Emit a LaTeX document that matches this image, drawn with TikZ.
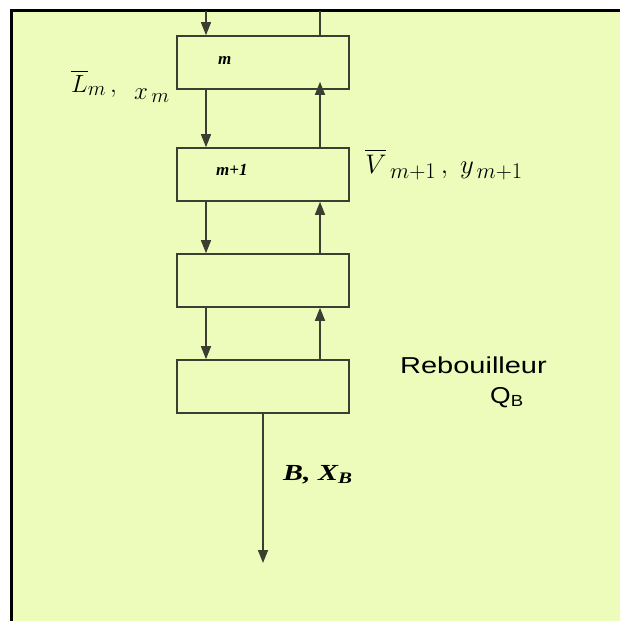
\documentclass[tikz,border=0pt]{standalone}
\usepackage{fontspec}
\usepackage{amsmath}
\newfontfamily\timesf{Liberation Serif}
\newfontfamily\arialf{Liberation Sans}
\usetikzlibrary{arrows.meta,positioning,calc}
\definecolor{paper}{RGB}{238,252,187}
\definecolor{ink}{RGB}{60,62,50}

\begin{document}
\begin{tikzpicture}[x=1pt,y=-1pt,
  stage/.style={draw=ink, line width=1.6pt, minimum width=172pt, minimum height=53pt, inner sep=0pt},
  num/.style={font=\timesf\bfseries\itshape\fontsize{17}{17}\selectfont, anchor=west, inner sep=0pt},
  flow/.style={draw=ink, line width=1.5pt, -{Triangle[length=13pt,width=10pt]}},
  pipe/.style={draw=ink, line width=1.5pt},
  tag/.style={inner sep=0pt, anchor=base}
]
  \useasboundingbox (0,0) rectangle (620,621);
  \fill[paper] (11,10) rectangle (620,621);
  \draw[black, line width=3pt] (11,621) -- (11,10) -- (620,10);

  % column of stages
  \node[stage] (s1) at (263,62.5) {};
  \node[stage] (s2) at (263,174.5) {};
  \node[stage] (s3) at (263,280.5) {};
  \node[stage] (s4) at (263,386.5) {};
  \node[num] at (218,60) {m};
  \node[num] at (216,170) {m+1};

  \coordinate (lx) at (206,0);
  \coordinate (rx) at (320,0);
  \coordinate (feed) at (206,11);
  \coordinate (vap) at (320,11);
  \coordinate (bot) at (263,563);

  \draw[flow] (feed) -- (s1.north -| lx);
  \draw[pipe] (s1.north -| rx) -- (vap);
  \draw[flow] (s1.south -| lx) -- (s2.north -| lx);
  \draw[flow] (s2.north -| rx) -- ([yshift=8pt]s1.south -| rx);
  \foreach \a/\b in {s2/s3,s3/s4}{
    \draw[flow] (\a.south -| lx) -- (\b.north -| lx);
    \draw[flow] (\b.north -| rx) -- (\a.south -| rx);
  }
  \draw[flow] (s4.south) -- (bot);

  % labels
  \node[tag, anchor=base west, font=\fontsize{24.88}{25}\selectfont] (lm) at (71,92)
    {$\overline{L}_{m}\,,\hspace{13pt}\raisebox{-7pt}{$x_{\,m}$}$};
  \node[tag, font=\fontsize{24.88}{25}\selectfont] (vm) at (444,173)
    {\scalebox{1.08}{$\overline{V}_{\,m+1}\,,\; y_{\,m+1}$}};
  \node[tag, anchor=base west, font=\arialf\fontsize{23}{23}\selectfont] (reb) at (400,373) {\scalebox{1.26}[1]{Rebouilleur}};
  \node[tag, anchor=base west, font=\arialf\fontsize{23}{23}\selectfont] (qb) at (490,403) {\scalebox{1.15}[1]{Q\textsubscript{B}}};
  \node[tag, anchor=base west, font=\timesf\bfseries\itshape\fontsize{23}{23}\selectfont] (bx) at (283,480) {\scalebox{1.3}[1]{B, X\textsubscript{B}}};
\end{tikzpicture}
\end{document}
